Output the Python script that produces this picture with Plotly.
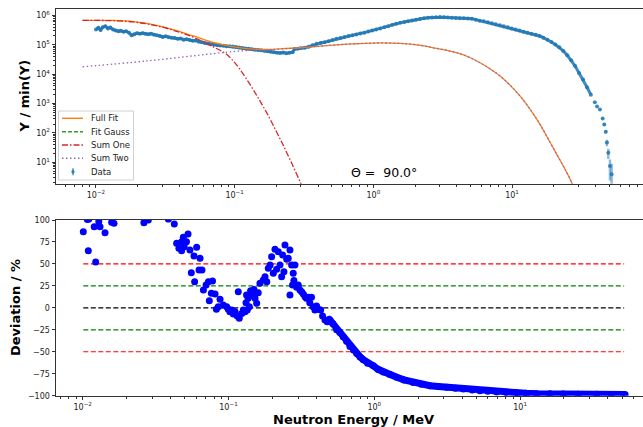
import plotly.graph_objects as go

# ---------------- top panel: measured spectrum ----------------
data_E = [0.0100, 0.0104, 0.0108, 0.0112, 0.0117, 0.0122, 0.0127, 0.0133, 0.0139, 0.0145,
          0.0151, 0.0158, 0.0165, 0.0173, 0.0181, 0.0189, 0.0198, 0.0207, 0.0217, 0.0227,
          0.0238, 0.0250, 0.0262, 0.0275, 0.0289, 0.0303, 0.0318, 0.0334, 0.0351, 0.0369,
          0.0388, 0.0408, 0.0429, 0.0451, 0.0474, 0.0498, 0.0524, 0.0551, 0.0580, 0.0610,
          0.0642, 0.0676, 0.0712, 0.0750, 0.0790, 0.0832, 0.0876, 0.0923, 0.0972, 0.1024,
          0.1079, 0.1137, 0.1198, 0.1262, 0.1330, 0.1401, 0.1476, 0.1555, 0.1638, 0.1726,
          0.1818, 0.1915, 0.2017, 0.2125, 0.2239, 0.2359, 0.2485, 0.2618, 0.2700, 0.2850,
          0.3000, 0.3200, 0.3420, 0.3650, 0.3900, 0.4170, 0.4450, 0.4750, 0.5080, 0.5420,
          0.5790, 0.6190, 0.6610, 0.7060, 0.7540, 0.8050, 0.8600, 0.9190, 0.9810, 1.048,
          1.12, 1.20, 1.28, 1.37, 1.46, 1.56, 1.67, 1.78, 1.90, 2.03,
          2.17, 2.32, 2.48, 2.65, 2.83, 3.02, 3.23, 3.45, 3.68, 3.93,
          4.20, 4.49, 4.80, 5.13, 5.48, 5.85, 6.25, 6.68, 7.14, 7.62,
          8.15, 8.70, 9.30, 9.93, 10.6, 11.3, 12.1, 12.9, 13.8, 14.8,
          15.8, 16.8, 18.0, 19.2, 20.5, 21.9, 23.4, 25.0, 26.7, 28.5,
          30.4, 32.5, 34.7, 37.0]
data_Y = [3.3e5, 3.8e5, 3.2e5, 4.0e5, 4.3e5, 3.6e5, 3.9e5, 3.3e5, 3.1e5, 2.9e5,
          3.0e5, 2.8e5, 2.9e5, 2.6e5, 2.1e5, 2.3e5, 2.5e5, 2.4e5, 2.5e5, 2.4e5,
          2.3e5, 2.4e5, 2.2e5, 2.1e5, 2.0e5, 1.85e5, 1.95e5, 1.8e5, 1.75e5, 1.7e5,
          1.6e5, 1.65e5, 1.5e5, 1.55e5, 1.45e5, 1.38e5, 1.4e5, 1.28e5, 1.22e5, 1.15e5,
          1.1e5, 1.05e5, 1.0e5, 9.6e4, 9.4e4, 9.3e4, 9.0e4, 8.9e4, 8.8e4, 8.4e4,
          8.1e4, 7.8e4, 7.5e4, 7.3e4, 7.0e4, 6.8e4, 6.7e4, 6.5e4, 6.3e4, 6.1e4,
          5.8e4, 5.6e4, 5.4e4, 5.3e4, 5.5e4, 5.2e4, 5.4e4, 5.6e4, 7.2e4, 7.4e4,
          7.7e4, 8.0e4, 8.6e4, 9.6e4, 1.08e5, 1.16e5, 1.22e5, 1.32e5, 1.45e5, 1.60e5,
          1.72e5, 1.85e5, 2.0e5, 2.13e5, 2.25e5, 2.45e5, 2.6e5, 2.85e5, 3.1e5, 3.3e5,
          3.6e5, 3.95e5, 4.3e5, 4.8e5, 5.2e5, 5.6e5, 6.0e5, 6.4e5, 6.8e5, 7.2e5,
          7.6e5, 8.0e5, 8.4e5, 8.6e5, 8.7e5, 8.8e5, 8.7e5, 8.5e5, 8.3e5, 8.2e5,
          8.0e5, 8.0e5, 7.9e5, 7.8e5, 7.2e5, 6.6e5, 6.3e5, 5.9e5, 5.4e5, 5.0e5,
          4.6e5, 4.3e5, 4.0e5, 3.6e5, 3.3e5, 3.1e5, 2.8e5, 2.6e5, 2.4e5, 2.2e5,
          2.0e5, 1.75e5, 1.5e5, 1.25e5, 1.02e5, 8.2e4, 6.2e4, 4.4e4, 3.0e4, 1.9e4,
          1.1e4, 6.6e3, 3.6e3, 2.0e3]
tail_E = [39.5, 41.0, 43.0, 45.0, 46.2, 47.4, 48.3, 49.4, 50.8, 52.2]
tail_Y = [1.1e3, 8.0e2, 6.3e2, 3.1e2, 1.95e2, 1.1e2, 47, 21, 7.4, 3.9]
tail_err = [40, 35, 30, 22, 18, 15, 12, 8, 5, 5]

# ---------------- top panel: fit components ----------------
full_E = [0.008, 0.0105, 0.0133, 0.0186, 0.0259, 0.036, 0.0503, 0.0701, 0.0875, 0.105,
          0.122, 0.145, 0.17, 0.212, 0.296, 0.4, 0.514, 0.7, 1.0, 1.56,
          2.2, 2.7, 3.4, 4.2, 5.0, 5.88, 7.0, 8.2, 9.7, 11.4,
          13.5, 15.9, 18.3, 21.0, 24.0, 26.9, 28.0]
full_Y = [6.76e5, 6.76e5, 6.76e5, 6.17e5, 4.9e5, 3.31e5, 2.0e5, 1.2e5, 9.55e4, 8.13e4,
          7.41e4, 7.08e4, 6.92e4, 7.24e4, 7.94e4, 8.91e4, 9.77e4, 1.07e5, 1.15e5, 1.12e5,
          9.55e4, 7.94e4, 6.46e4, 5.01e4, 3.63e4, 2.45e4, 1.48e4, 8.7e3, 4.17e3, 1.82e3,
          631, 195, 60, 18.6, 6.0, 2.04, 1.12]
gauss_E = [0.008, 52.0]
gauss_Y = [1e-3, 1e-3]
one_E = [0.008, 0.0105, 0.0133, 0.0186, 0.0259, 0.036, 0.0503, 0.0701, 0.085, 0.0977,
         0.109, 0.129, 0.15, 0.17, 0.2, 0.2245, 0.26, 0.30, 0.32]
one_Y = [6.76e5, 6.76e5, 6.6e5, 6.03e5, 4.68e5, 3.16e5, 1.82e5, 8.5e4, 5.25e4, 2.82e4,
         1.48e4, 4.47e3, 1.38e3, 490, 112, 37, 8.5, 1.9, 0.95]
two_E = [0.008, 0.0232, 0.070, 0.109, 0.17, 0.212, 0.296, 0.4, 0.514, 0.7,
         1.0, 1.56, 2.2, 2.7, 3.4, 4.2, 5.0, 5.88, 7.0, 8.2,
         9.7, 11.4, 13.5, 15.9, 18.3, 21.0, 24.0, 26.9, 28.0]
two_Y = [1.78e4, 2.82e4, 5.01e4, 6.17e4, 6.76e4, 7.24e4, 7.94e4, 8.91e4, 9.77e4, 1.07e5,
         1.15e5, 1.12e5, 9.55e4, 7.94e4, 6.46e4, 5.01e4, 3.63e4, 2.45e4, 1.48e4, 8.7e3,
         4.17e3, 1.82e3, 631, 195, 60, 18.6, 6.0, 2.04, 1.12]

# ---------------- bottom panel: deviation ----------------
dev_E = [0.0101, 0.01076, 0.0110, 0.01093, 0.0120, 0.01228, 0.0129, 0.01315, 0.01423, 0.0158,
         0.0164, 0.0263, 0.0282, 0.0387, 0.0425, 0.0441, 0.0457, 0.0477, 0.049, 0.0497,
         0.0515, 0.0477, 0.0528, 0.0544, 0.0556, 0.058, 0.0586, 0.0605, 0.0628, 0.0638,
         0.0658, 0.0673, 0.0702, 0.0728, 0.0739, 0.0763, 0.0777, 0.0809, 0.0826, 0.0851,
         0.0875, 0.0921, 0.0972, 0.0997, 0.1023, 0.105, 0.108, 0.111, 0.1148, 0.1186,
         0.1233, 0.1265, 0.1298, 0.1167, 0.1319, 0.1346, 0.139, 0.133, 0.1365, 0.1418,
         0.1455, 0.1495, 0.152, 0.156, 0.16, 0.1644, 0.1733, 0.178, 0.183, 0.1875,
         0.193, 0.1977, 0.203, 0.2084, 0.214, 0.2196, 0.2254, 0.2315, 0.2353, 0.244,
         0.2508, 0.257, 0.240, 0.264, 0.271, 0.278, 0.2856, 0.2640, 0.275, 0.281,
         0.2935, 0.301, 0.309, 0.3175, 0.326, 0.335, 0.342, 0.352, 0.361, 0.371,
         0.381, 0.3915, 0.402, 0.413, 0.4285, 0.4418, 0.459, 0.4755, 0.491]
dev = [86.7, 100.5, 101.0, 65.0, 92.4, 52.2, 98.0, 92.4, 85.6, 97.4,
       96.2, 97.0, 100.0, 101.0, 95.4, 73.5, 67.8, 75.3, 80.3, 69.6,
       75.3, 65.0, 84.0, 65.9, 40.0, 59.0, 29.8, 68.9, 43.0, 56.4,
       43.0, 20.3, 26.0, 29.8, 8.1, 16.6, 30.6, 15.8, -1.7, 1.3,
       9.7, 3.2, 1.3, -1.7, -4.4, -2.4, -7.0, -4.4, -9.3, -11.9,
       -6.3, -2.4, -4.4, 18.4, 5.8, -2.4, 1.3, 14.6, 10.9, 19.5,
       14.6, 21.0, 10.9, 5.2, 17.3, 27.9, 31.7, 35.5, 29.8, 45.0,
       48.8, 58.2, 39.3, 66.6, 43.8, 64.0, 48.8, 35.5, 60.2, 71.5,
       55.3, 56.4, 41.2, 65.9, 48.8, 39.3, 48.8, 14.6, 26.0, 31.0,
       23.4, 26.0, 20.3, 18.4, 15.8, 12.7, 10.9, 12.0, 5.8, 12.0,
       1.3, -2.4, 2.1, -1.7, -2.4, -9.3, -13.8, -15.8, -13.0]
dev_dense_E = [0.497, 0.52, 0.552, 0.58, 0.612, 0.645, 0.681, 0.72, 0.757, 0.80,
               0.841, 0.90, 0.985, 1.06, 1.153, 1.28, 1.426, 1.6, 1.85, 2.1,
               2.41, 2.75, 3.14, 3.6, 4.08, 4.7, 5.3, 6.0, 6.9, 8.0,
               9.5, 11.0, 13.0, 16.0, 19.8, 25.0, 33.5, 42.0, 52.5]
dev_dense = [-14, -18, -25, -28, -33, -38, -44, -48, -52, -56,
             -59, -63, -66, -70, -73, -76, -79, -82, -85, -87,
             -88.6, -89.5, -90.4, -91.5, -92.4, -93.4, -94.3, -95, -95.8, -96.4,
             -96.9, -97.3, -97.7, -97.9, -98.1, -98.3, -98.4, -98.5, -98.5]
ref_levels = [50, 25, 0, -25, -50]
ref_colors = ["red", "green", "black", "green", "red"]

legend_labels = ["Full Fit", "Fit Gauss", "Sum One", "Sum Two", "Data"]
angle_text = "Θ =  90.0°"

FONT = "DejaVu Sans"
BLUE = "rgba(31,119,180,0.85)"
C_FULL, C_GAUSS, C_ONE, C_TWO = "#ff7f0e", "#2ca02c", "#d62728", "#9467bd"
D_GAUSS, D_ONE, D_TWO = "4px,2px", "6px,2px,1.5px,2px", "1.5px,2.5px"

fig = go.Figure()

# top panel
fig.add_trace(go.Scatter(x=data_E, y=data_Y, mode="lines+markers", xaxis="x", yaxis="y",
                         line=dict(color=BLUE, width=3), marker=dict(color=BLUE, size=4),
                         showlegend=False, hoverinfo="skip"))
fig.add_trace(go.Scatter(x=tail_E, y=tail_Y, mode="markers", xaxis="x", yaxis="y", name="Data",
                         marker=dict(color=BLUE, size=4), showlegend=False,
                         error_y=dict(type="data", array=tail_err, color="rgba(31,119,180,0.5)",
                                      thickness=2.5, width=0)))
fig.add_trace(go.Scatter(x=full_E, y=full_Y, mode="lines", name="Full Fit", xaxis="x", yaxis="y",
                         showlegend=False, line=dict(color=C_FULL, width=1.3, shape="spline")))
fig.add_trace(go.Scatter(x=gauss_E, y=gauss_Y, mode="lines", name="Fit Gauss", xaxis="x", yaxis="y",
                         showlegend=False, line=dict(color=C_GAUSS, width=1.3, dash=D_GAUSS)))
fig.add_trace(go.Scatter(x=one_E, y=one_Y, mode="lines", name="Sum One", xaxis="x", yaxis="y",
                         showlegend=False, line=dict(color=C_ONE, width=1.3, dash=D_ONE, shape="spline")))
fig.add_trace(go.Scatter(x=two_E, y=two_Y, mode="lines", name="Sum Two", xaxis="x", yaxis="y",
                         showlegend=False, line=dict(color=C_TWO, width=1.3, dash=D_TWO, shape="spline")))

# bottom panel
for lvl, col in zip(ref_levels, ref_colors):
    fig.add_trace(go.Scatter(x=[min(dev_E), max(dev_dense_E) * 0.985], y=[lvl, lvl], mode="lines",
                             xaxis="x2", yaxis="y2", showlegend=False, hoverinfo="skip",
                             line=dict(color=col, width=1.2, dash="5px,2.5px")))
fig.add_trace(go.Scatter(x=dev_E, y=dev, mode="markers", xaxis="x2", yaxis="y2", showlegend=False,
                         marker=dict(color="blue", size=7)))
fig.add_trace(go.Scatter(x=dev_dense_E, y=dev_dense, mode="lines+markers", xaxis="x2", yaxis="y2",
                         showlegend=False, marker=dict(color="blue", size=7),
                         line=dict(color="blue", width=7)))

W, H = 643, 427
minor_x = [k * 10 ** d for d in range(-3, 2) for k in range(2, 10)]
minor_y = [k * 10 ** d for d in range(0, 7) for k in range(2, 10)]

axis_common = dict(showgrid=False, zeroline=False, showline=True, linecolor="#333", linewidth=1,
                   ticks="outside", ticklen=3.5, tickwidth=0.8, tickcolor="#333", automargin=False,
                   tickfont=dict(family=FONT, size=8, color="#222"))

# ---- legend drawn as a box with key samples (compact, matplotlib-like) ----
def px(x):
    return x / W


def py(y):
    return 1 - y / H


shapes = [dict(type="rect", xref="paper", yref="paper", x0=px(58.5), x1=px(133.5), y0=py(180), y1=py(111),
               line=dict(color="#d0d0d0", width=1), fillcolor="rgba(255,255,255,0.8)", layer="above")]
rows = [118.3, 131.7, 145.0, 158.3, 171.7]
key_styles = [(C_FULL, "solid"), (C_GAUSS, D_GAUSS), (C_ONE, D_ONE), (C_TWO, D_TWO)]
for (col, dsh), ry in zip(key_styles, rows[:4]):
    shapes.append(dict(type="line", xref="paper", yref="paper", x0=px(62), x1=px(83), y0=py(ry), y1=py(ry),
                       line=dict(color=col, width=1.4, dash=dsh), layer="above"))
shapes.append(dict(type="line", xref="paper", yref="paper", x0=px(73), x1=px(73), y0=py(rows[4] - 3.5),
                   y1=py(rows[4] + 3.5), line=dict(color="rgba(31,119,180,0.6)", width=2), layer="above"))
shapes.append(dict(type="circle", xref="paper", yref="paper", x0=px(71.3), x1=px(74.7), y0=py(rows[4] + 1.7),
                   y1=py(rows[4] - 1.7), line=dict(color=BLUE, width=0), fillcolor=BLUE, layer="above"))

annotations = [
    dict(text="<b>Y / min(Y)</b>", x=px(24), y=py(96.5), xref="paper", yref="paper",
         xanchor="center", yanchor="middle", textangle=-90, showarrow=False,
         font=dict(family=FONT, size=13, color="black")),
    dict(text="<b>Deviation / %</b>", x=px(15), y=py(308), xref="paper", yref="paper",
         xanchor="center", yanchor="middle", textangle=-90, showarrow=False,
         font=dict(family=FONT, size=13, color="black")),
    dict(text="<b>Neutron Energy / MeV</b>", x=px(353), y=py(419), xref="paper", yref="paper",
         xanchor="center", yanchor="middle", showarrow=False,
         font=dict(family=FONT, size=13, color="black")),
    dict(text=angle_text, x=px(384), y=py(172), xref="paper", yref="paper",
         xanchor="center", yanchor="middle", showarrow=False,
         font=dict(family=FONT, size=12.5, color="black")),
]
for lab, ry in zip(legend_labels, rows):
    annotations.append(dict(text=lab, x=px(89), y=py(ry), xref="paper", yref="paper",
                            xanchor="left", yanchor="middle", showarrow=False,
                            font=dict(family=FONT, size=8.5, color="#222")))

fig.update_layout(
    width=W, height=H, margin=dict(l=0, r=0, t=0, b=0),
    paper_bgcolor="white", plot_bgcolor="white", showlegend=False,
    font=dict(family=FONT),
    xaxis=dict(type="log", range=[-2.288, 1.944], domain=[56 / W, 1.0], anchor="y", mirror=True,
               tickvals=[0.01, 0.1, 1, 10],
               ticktext=["10<sup>−2</sup>", "10<sup>−1</sup>", "10<sup>0</sup>", "10<sup>1</sup>"],
               minor=dict(ticks="outside", ticklen=2, tickwidth=0.6, tickcolor="#333", tickvals=minor_x),
               **axis_common),
    yaxis=dict(type="log", range=[0.27, 6.21], domain=[1 - 183.7 / H, 1 - 9.3 / H], anchor="x",
               tickvals=[10, 100, 1e3, 1e4, 1e5, 1e6],
               ticktext=["10<sup>1</sup>", "10<sup>2</sup>", "10<sup>3</sup>", "10<sup>4</sup>",
                         "10<sup>5</sup>", "10<sup>6</sup>"],
               minor=dict(ticks="outside", ticklen=2, tickwidth=0.6, tickcolor="#333", tickvals=minor_y),
               **axis_common),
    xaxis2=dict(type="log", range=[-2.183, 1.843], domain=[56 / W, 1.0], anchor="y2", mirror=True,
                tickvals=[0.01, 0.1, 1, 10],
                ticktext=["10<sup>−2</sup>", "10<sup>−1</sup>", "10<sup>0</sup>", "10<sup>1</sup>"],
                minor=dict(ticks="outside", ticklen=2, tickwidth=0.6, tickcolor="#333", tickvals=minor_x),
                **axis_common),
    yaxis2=dict(range=[-100, 100], domain=[1 - 395.7 / H, 1 - 220 / H], anchor="x2",
                tickvals=[-100, -75, -50, -25, 0, 25, 50, 75, 100], **axis_common),
    shapes=shapes,
    annotations=annotations,
)

fig.write_html("out.html")
